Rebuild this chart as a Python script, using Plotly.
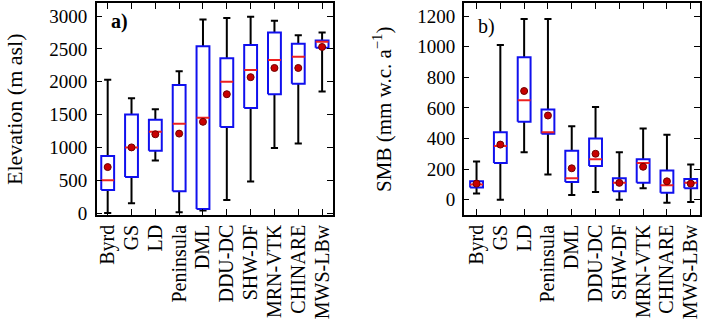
import numpy as np
import plotly.graph_objects as go

categories = ["Byrd", "GS", "LD", "Peninsula", "DML", "DDU-DC", "SHW-DF", "MRN-VTK", "CHINARE", "MWS-LBw"]

# Panel a) Elevation (m asl)
elev_low = [0, 150, 800, 10, 40, 200, 480, 990, 1060, 1850]
elev_q1 = [350, 550, 950, 330, 60, 1310, 1600, 1810, 1970, 2520]
elev_med = [500, 1000, 1240, 1360, 1450, 2000, 2180, 2330, 2380, 2610]
elev_q3 = [870, 1500, 1420, 1950, 2540, 2360, 2560, 2750, 2580, 2630]
elev_high = [2030, 1750, 1580, 2160, 2950, 2970, 2990, 2930, 2710, 2750]
elev_mean = [700, 1000, 1200, 1210, 1390, 1810, 2070, 2210, 2210, 2530]

# Panel b) SMB (mm w.c. a-1)
smb_low = [40, 0, 310, 165, 30, 50, 0, 75, -20, -15]
smb_q1 = [80, 240, 510, 430, 115, 220, 55, 110, 45, 75]
smb_med = [100, 350, 650, 440, 140, 265, 110, 240, 95, 110]
smb_q3 = [120, 440, 930, 590, 320, 400, 140, 265, 190, 135]
smb_high = [250, 1010, 1180, 1180, 480, 605, 310, 465, 425, 230]
smb_mean = [105, 360, 710, 550, 205, 300, 110, 215, 120, 105]

W, H = 708, 325
HALF = 0.27   # box half width (category units)
CAP = 0.15    # whisker cap half width
FONT = "Liberation Serif, Times New Roman, serif"

fig = go.Figure()


def add_panel(xa, ya, low, q1, med, q3, high, mean):
    xs = np.arange(len(categories), dtype=float)
    # whiskers
    wx, wy = [], []
    for i, x in enumerate(xs):
        wx += [x, x, None]
        wy += [low[i], high[i], None]
        wx += [x - CAP, x + CAP, None, x - CAP, x + CAP, None]
        wy += [low[i], low[i], None, high[i], high[i], None]
    fig.add_trace(go.Scatter(x=wx, y=wy, mode="lines", xaxis=xa, yaxis=ya,
                             line=dict(color="black", width=2), hoverinfo="skip", showlegend=False))
    # boxes
    bx, by = [], []
    for i, x in enumerate(xs):
        bx += [x - HALF, x + HALF, x + HALF, x - HALF, x - HALF, None]
        by += [q1[i], q1[i], q3[i], q3[i], q1[i], None]
    fig.add_trace(go.Scatter(x=bx, y=by, mode="lines", fill="toself", fillcolor="white",
                             xaxis=xa, yaxis=ya, line=dict(color="#1010ee", width=2),
                             hoverinfo="skip", showlegend=False))
    # medians
    mx, my = [], []
    for i, x in enumerate(xs):
        mx += [x - HALF, x + HALF, None]
        my += [med[i], med[i], None]
    fig.add_trace(go.Scatter(x=mx, y=my, mode="lines", xaxis=xa, yaxis=ya,
                             line=dict(color="#ee2020", width=2), hoverinfo="skip", showlegend=False))
    # means
    fig.add_trace(go.Scatter(x=xs, y=mean, mode="markers", xaxis=xa, yaxis=ya,
                             marker=dict(color="#c80000", size=7, line=dict(color="#700000", width=1)),
                             hoverinfo="skip", showlegend=False))


add_panel("x", "y", elev_low, elev_q1, elev_med, elev_q3, elev_high, elev_mean)
add_panel("x2", "y2", smb_low, smb_q1, smb_med, smb_q3, smb_high, smb_mean)

axis_common = dict(showline=True, linecolor="black", linewidth=1.5, mirror="allticks",
                   ticks="inside", ticklen=6, tickcolor="black", tickwidth=1,
                   showgrid=False, zeroline=False)

yfont = dict(family=FONT, size=19, color="black")
xfont = dict(family=FONT, size=20, color="black")

xticks = dict(tickmode="array", tickvals=list(range(len(categories))), ticktext=categories,
              tickangle=-90, tickfont=xfont)

fig.update_layout(
    width=W, height=H,
    margin=dict(l=0, r=0, t=3, b=110),
    paper_bgcolor="white", plot_bgcolor="white",
    xaxis=dict(domain=[96 / W, 333 / W], range=[-0.46, 9.46], anchor="y", **xticks, **axis_common),
    yaxis=dict(domain=[0, 1], range=[-30, 3200], anchor="x", tickvals=[0, 500, 1000, 1500, 2000, 2500, 3000],
               tickfont=yfont, ticklabelstandoff=4, **axis_common),
    xaxis2=dict(domain=[464 / W, 701 / W], range=[-0.54, 9.39], anchor="y2", **xticks, **axis_common),
    yaxis2=dict(domain=[0, 1], range=[-100, 1285], anchor="x2",
                tickvals=[0, 200, 400, 600, 800, 1000, 1200], tickfont=yfont, ticklabelstandoff=3,
                **axis_common),
    annotations=[
        dict(text="Elevation (m asl)", textangle=-90, xref="paper", yref="paper",
             x=13 / W, y=0.5, xanchor="center", yanchor="middle", showarrow=False,
             font=dict(family=FONT, size=22, color="black")),
        dict(text="SMB (mm w.c. a<sup>\u22121</sup>)", textangle=-90, xref="paper", yref="paper",
             x=382 / W, y=0.5, xanchor="center", yanchor="middle", showarrow=False,
             font=dict(family=FONT, size=21, color="black")),
        dict(text="<b>a)</b>", xref="x domain", yref="y domain", x=0.05, y=0.975,
             xanchor="left", yanchor="top", showarrow=False,
             font=dict(family=FONT, size=20, color="black")),
        dict(text="b)", xref="x2 domain", yref="y2 domain", x=0.05, y=0.955,
             xanchor="left", yanchor="top", showarrow=False,
             font=dict(family=FONT, size=20, color="black")),
    ],
)

fig.write_html("out.html")
